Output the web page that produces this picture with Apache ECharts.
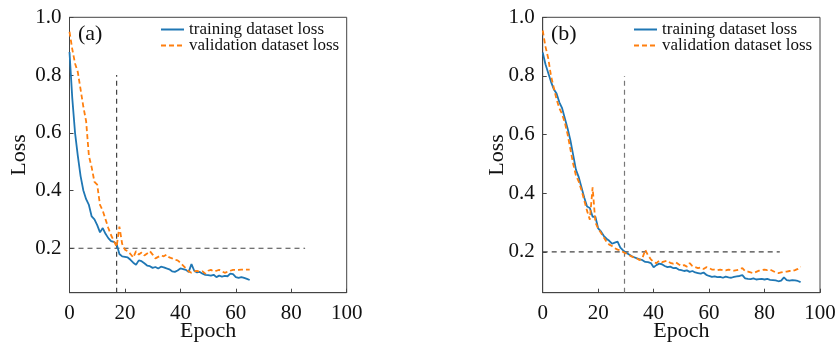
<!DOCTYPE html>
<html>
<head>
<meta charset="utf-8">
<script src="https://cdn.jsdelivr.net/npm/echarts@6/dist/echarts.min.js"></script>
<style>
html,body{margin:0;padding:0;background:#fff;}
#chart{width:839px;height:342px;}
</style>
</head>
<body>
<div id="chart"></div>
<script>
// ---- Data ----
const trainA = [0.88,0.72,0.60,0.52,0.45,0.40,0.37,0.35,0.31,0.30,0.28,0.255,0.27,0.25,0.235,0.225,0.222,0.215,0.18,0.172,
0.170,0.168,0.160,0.150,0.143,0.158,0.155,0.148,0.140,0.138,0.132,0.135,0.130,0.136,0.134,0.130,0.127,0.120,0.118,0.123,
0.130,0.128,0.125,0.118,0.145,0.122,0.116,0.118,0.112,0.108,0.107,0.105,0.108,0.100,0.105,0.102,0.104,0.103,0.112,0.110,
0.100,0.097,0.100,0.097,0.094,0.090];
const validA = [0.95,0.89,0.84,0.81,0.75,0.69,0.64,0.52,0.48,0.43,0.42,0.35,0.33,0.30,0.27,0.245,0.225,0.205,0.275,0.215,
0.195,0.19,0.18,0.168,0.19,0.178,0.185,0.175,0.182,0.19,0.178,0.165,0.17,0.175,0.172,0.178,0.168,0.165,0.16,0.158,
0.15,0.14,0.13,0.12,0.115,0.12,0.122,0.118,0.12,0.112,0.122,0.125,0.12,0.122,0.125,0.12,0.115,0.118,0.122,0.125,
0.125,0.125,0.126,0.126,0.126,0.126];
const trainB = [0.88,0.84,0.81,0.78,0.755,0.74,0.71,0.69,0.655,0.62,0.58,0.53,0.48,0.455,0.42,0.385,0.355,0.35,0.32,0.32,
0.28,0.27,0.255,0.245,0.238,0.228,0.232,0.235,0.215,0.205,0.198,0.192,0.186,0.182,0.178,0.175,0.172,0.166,0.165,0.162,
0.148,0.155,0.16,0.158,0.152,0.148,0.15,0.145,0.146,0.14,0.138,0.135,0.137,0.132,0.135,0.13,0.128,0.126,0.13,0.122,
0.118,0.115,0.117,0.114,0.115,0.112,0.116,0.113,0.112,0.115,0.117,0.118,0.121,0.11,0.108,0.107,0.11,0.106,0.107,0.108,
0.106,0.108,0.105,0.104,0.103,0.1,0.102,0.113,0.104,0.102,0.104,0.103,0.101,0.097];
const validB = [0.955,0.9,0.86,0.8,0.76,0.72,0.69,0.67,0.64,0.6,0.55,0.5,0.46,0.44,0.41,0.375,0.34,0.31,0.42,0.3,
0.28,0.265,0.25,0.235,0.225,0.22,0.213,0.208,0.205,0.2,0.195,0.19,0.185,0.18,0.178,0.172,0.18,0.207,0.188,0.175,
0.165,0.162,0.17,0.165,0.168,0.17,0.163,0.16,0.165,0.158,0.152,0.155,0.15,0.162,0.152,0.148,0.145,0.147,0.142,0.148,
0.145,0.14,0.14,0.138,0.14,0.138,0.137,0.14,0.138,0.136,0.138,0.14,0.145,0.135,0.133,0.13,0.128,0.132,0.136,0.138,
0.14,0.138,0.14,0.135,0.13,0.128,0.13,0.132,0.133,0.135,0.135,0.138,0.142,0.15];
const refA = {vx: 17, vTop: 0.8, hy: 0.2, hEnd: 85};
const refB = {vx: 29.5, vTop: 0.8, hy: 0.2, hEnd: 85.5};
const xTicks = [0,20,40,60,80,100];
const yTicks = [0.2,0.4,0.6,0.8,1.0];
const yRangeA = [0.046, 1.0];
const yRangeB = [0.061, 1.0];
const names = ['training dataset loss','validation dataset loss'];
const panelLabels = ['(a)','(b)'];

// ---- Chart ----
const FONT = '"Liberation Serif", "Times New Roman", serif';
const chart = echarts.init(document.getElementById('chart'), null, {renderer:'canvas'});
const pairs = (arr) => arr.map((v,i)=>[i,v]);
const grids = [
  {left:69.5, top:17.3, width:277.2, height:275.4, show:true, borderColor:'#444', borderWidth:1,
   containLabel:false, outerBoundsMode:'none'},
  {left:542.7, top:17.3, width:277.3, height:275.4, show:true, borderColor:'#444', borderWidth:1,
   containLabel:false, outerBoundsMode:'none'}
];
function xAx(i){
  return {type:'value', gridIndex:i, min:0, max:100, interval:20,
    name:'Epoch', nameLocation:'middle', nameGap:28, nameMoveOverlap:false,
    nameTextStyle:{fontFamily:FONT, fontSize:22, color:'#111'},
    axisLine:{lineStyle:{color:'#444'}},
    axisTick:{inside:true, length:4, lineStyle:{color:'#444'}},
    axisLabel:{fontFamily:FONT, fontSize:21, color:'#111', margin:10},
    splitLine:{show:false}};
}
function yAx(i, rng, gap){
  return {type:'value', gridIndex:i, min:rng[0], max:rng[1],
    name:'Loss', nameLocation:'middle', nameGap:gap, nameMoveOverlap:false,
    nameTextStyle:{fontFamily:FONT, fontSize:22, color:'#111'},
    axisLine:{lineStyle:{color:'#444'}},
    axisTick:{inside:true, length:4, lineStyle:{color:'#444'}, customValues:yTicks},
    axisLabel:{fontFamily:FONT, fontSize:21, color:'#111', margin:8, customValues:yTicks,
      formatter:(v)=>v.toFixed(1)},
    splitLine:{show:false}};
}
function lineS(name, data, i, color, dashed){
  return {type:'line', name:name, xAxisIndex:i, yAxisIndex:i, data:pairs(data),
    symbol:'none', showSymbol:false, animation:false, z:3,
    lineStyle:{color:color, width:1.8, type: dashed ? [5,3] : 'solid'},
    itemStyle:{color:color}};
}
function refS(i, ref, ymin, vcolor){
  return [
    {type:'line', xAxisIndex:i, yAxisIndex:i, data:[[0,ref.hy],[ref.hEnd,ref.hy]], symbol:'none',
      animation:false, silent:true, z:2, lineStyle:{color:'#444', width:1.2, type:[5,4]}},
    {type:'line', xAxisIndex:i, yAxisIndex:i, data:[[ref.vx,ymin],[ref.vx,ref.vTop]], symbol:'none',
      animation:false, silent:true, z:2, lineStyle:{color:vcolor, width:1.2, type:[5,4]}}
  ];
}
function leg(name, left, top){
  return {orient:'vertical', itemWidth:23, itemHeight:12, padding:0, left:left, top:top,
    itemStyle:{opacity:0}, selectedMode:false, data:[name],
    textStyle:{fontFamily:FONT, fontSize:17, color:'#111'}};
}
const option = {
  animation:false,
  grid: grids,
  xAxis:[xAx(0), xAx(1)],
  yAxis:[yAx(0, yRangeA, 39.5), yAx(1, yRangeB, 34)],
  legend:[
    leg(names[0], 160, 21), leg(names[1], 160, 37),
    leg(names[0], 633, 21), leg(names[1], 633, 37)
  ],
  graphic:[
    {type:'text', left:78, top:23, style:{text:panelLabels[0], font:'22px "Liberation Serif", serif', fill:'#111'}},
    {type:'text', left:551, top:23, style:{text:panelLabels[1], font:'22px "Liberation Serif", serif', fill:'#111'}}
  ],
  series:[
    lineS(names[0], trainA, 0, '#1f77b4', false),
    lineS(names[1], validA, 0, '#ff7f0e', true),
    lineS(names[0], trainB, 1, '#1f77b4', false),
    lineS(names[1], validB, 1, '#ff7f0e', true),
    ...refS(0, refA, yRangeA[0], '#444'),
    ...refS(1, refB, yRangeB[0], '#777')
  ]
};
chart.setOption(option);
</script>
</body>
</html>
